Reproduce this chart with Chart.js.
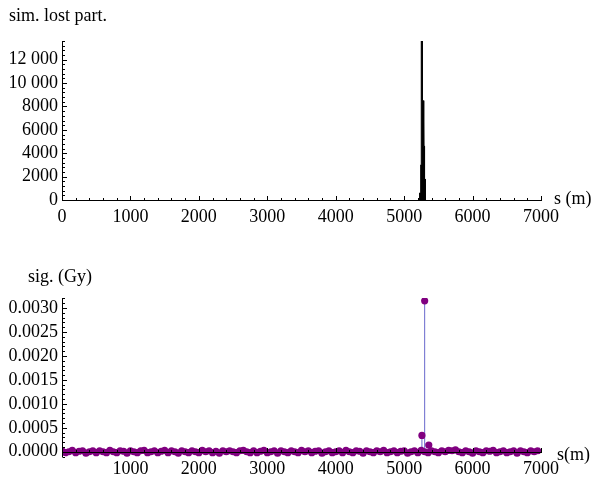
<!DOCTYPE html>
<html><head><meta charset="utf-8">
<script src="https://cdn.jsdelivr.net/npm/chart.js@4/dist/chart.umd.min.js"></script>
<style>
html,body{margin:0;padding:0;background:#fff;width:593px;height:479px;overflow:hidden}
#wrap{position:relative;width:593px;height:479px}
canvas{position:absolute;left:0}
#c1{top:0}
#c2{top:250px}
.lbl{position:absolute;font-family:"Liberation Serif","Times New Roman",serif;font-size:18px;line-height:18px;color:#000;white-space:nowrap}
</style></head><body>
<div id="wrap">
<canvas id="c1" width="593" height="240"></canvas>
<canvas id="c2" width="593" height="229"></canvas>
<div class="lbl" style="left:9px;top:6px">sim. lost part.</div>
<div class="lbl" style="left:554px;top:189px">s (m)</div>
<div class="lbl" style="left:28px;top:267px">sig. (Gy)</div>
<div class="lbl" style="left:557px;top:445px">s(m)</div>
</div>
<script>
// ---------- top chart: simulated lost particles (histogram) ----------
const lossBinEdges = [5225, 5235, 5245, 5250, 5265, 5280, 5290, 5298, 5305, 5312];
const lossCounts   = [600, 1500, 3000, 13600, 8500, 7900, 4600, 1800, 500];
const topXTicks = [0, 1000, 2000, 3000, 4000, 5000, 6000, 7000];
const topYTicks = [0, 2000, 4000, 6000, 8000, 10000, 12000];

// ---------- bottom chart: signal (Gy) per monitor ----------
const bgS = [0,50,100,150,200,250,300,350,400,450,500,550,600,650,700,750,800,850,900,950,
 1000,1050,1100,1150,1200,1250,1300,1350,1400,1450,1500,1550,1600,1650,1700,1750,1800,1850,1900,1950,
 2000,2050,2100,2150,2200,2250,2300,2350,2400,2450,2500,2550,2600,2650,2700,2750,2800,2850,2900,2950,
 3000,3050,3100,3150,3200,3250,3300,3350,3400,3450,3500,3550,3600,3650,3700,3750,3800,3850,3900,3950,
 4000,4050,4100,4150,4200,4250,4300,4350,4400,4450,4500,4550,4600,4650,4700,4750,4800,4850,4900,4950,
 5000,5050,5100,5150,5200,5250,5300,5350,5400,5450,5500,5550,5600,5650,5700,5750,5800,5850,5900,5950,
 6000,6050,6100,6150,6200,6250,6300,6350,6400,6450,6500,6550,6600,6650,6700,6750,6800,6850,6900,6950];
// background signal, in units of 1e-5 Gy
const bgSigE5 = [2,-2,0,3,-2,1,2,-3,0,2,
 -2,2,0,-2,3,0,-2,2,1,-3,
 2,0,-2,2,3,-2,0,2,-2,1,
 3,-2,2,0,-3,2,0,-2,2,0,
 -2,3,0,2,-2,1,-3,2,0,2,
 0,-2,2,3,0,-2,2,-2,1,3,
 -2,0,2,-3,2,0,-2,2,0,-2,
 3,0,2,-2,1,2,-3,0,2,-2,
 0,2,-2,3,0,-2,2,1,-3,2,
 0,-2,2,0,3,-2,0,2,-2,1,
 2,-3,0,2,-2,3,0,-2,2,0,
 -2,2,0,3,2,4,0,-2,2,0,
 -3,2,0,-2,2,1,3,-2,0,2,
 -2,0,2,-3,2,0,-2,2,0,2];
const peakS = [5260, 5300, 5360];
const peakSig = [0.00034, 0.00315, 0.00014];
const botXTicks = [1000, 2000, 3000, 4000, 5000, 6000, 7000];
const botYTicks = [0, 0.0005, 0.0010, 0.0015, 0.0020, 0.0025, 0.0030];

const FONT = {family: '"Liberation Serif","Times New Roman",serif', size: 18};

function range(a, b, st){ const r=[]; for(let v=a; v<=b+st*1e-6; v+=st) r.push(+v.toFixed(8)); return r; }

const axesPlugin = {
  id: 'mAxes',
  afterDatasetsDraw(chart, args, o){
    const {ctx, chartArea:a, scales:{x, y}} = chart;
    ctx.save();
    ctx.strokeStyle = '#000'; ctx.lineWidth = 1;
    const y0 = Math.round(y.getPixelForValue(0)) + 0.5;
    const xl = Math.round(a.left) + 0.5;
    ctx.beginPath();
    ctx.moveTo(a.left, y0); ctx.lineTo(a.right + 1, y0);
    ctx.moveTo(xl, a.top); ctx.lineTo(xl, a.bottom);
    const tick = (vals, len, isX) => {
      vals.forEach(v => {
        if (isX) { const px = Math.round(x.getPixelForValue(v)) + 0.5; ctx.moveTo(px, y0); ctx.lineTo(px, y0 - len); }
        else { const py = Math.round(y.getPixelForValue(v)) + 0.5; ctx.moveTo(xl, py); ctx.lineTo(xl + len, py); }
      });
    };
    tick(o.xMinor, 2.5, true); tick(o.xMajor, 4.5, true);
    tick(o.yMinor, 2.5, false); tick(o.yMajor, 4.5, false);
    ctx.stroke();
    ctx.restore();
  }
};

function fmtTop(v){ return v >= 10000 ? Math.floor(v/1000) + ' ' + String(v%1000).padStart(3,'0') : String(v); }

// ---- top chart ----
const histPts = [{x: lossBinEdges[0], y: 0}];
lossCounts.forEach((c, i) => { histPts.push({x: lossBinEdges[i], y: c}); histPts.push({x: lossBinEdges[i+1], y: c}); });
histPts.push({x: lossBinEdges[lossBinEdges.length-1], y: 0});

new Chart(document.getElementById('c1'), {
  type: 'line',
  data: { datasets: [{ data: histPts, borderColor: '#000', backgroundColor: '#000', borderWidth: 1, pointRadius: 0, fill: 'origin', tension: 0 }] },
  options: {
    responsive: false, animation: false, devicePixelRatio: 1,
    layout: { padding: { left: 0, top: 41, right: 52, bottom: 0 } },
    plugins: { legend: {display: false}, tooltip: {enabled: false},
      mAxes: { xMajor: topXTicks, xMinor: range(0, 7000, 200), yMajor: topYTicks, yMinor: range(0, 13600, 400) } },
    scales: {
      x: { type: 'linear', min: 0, max: 7000, grid: {display: false, drawTicks: false}, border: {display: false},
           afterBuildTicks: s => { s.ticks = topXTicks.map(v => ({value: v})); },
           afterFit: s => { s.height = 40; },
           ticks: { font: FONT, color: '#000', padding: 6, maxRotation: 0, autoSkip: false, callback: v => String(v) } },
      y: { type: 'linear', min: 0, max: 13600, grid: {display: false, drawTicks: false}, border: {display: false},
           afterBuildTicks: s => { s.ticks = topYTicks.map(v => ({value: v})); },
           afterFit: s => { s.width = 62; },
           ticks: { font: FONT, color: '#000', padding: 4, autoSkip: false, callback: v => fmtTop(v) } }
    }
  },
  plugins: [axesPlugin]
});

// ---- bottom chart ----
const allS = bgS.concat(peakS);
const allSig = bgSigE5.map(v => v * 1e-5).concat(peakSig);
const stemPts = [];
allS.forEach((s, i) => { stemPts.push({x: s, y: 0}, {x: s, y: allSig[i]}, {x: s, y: null}); });
const dotPts = allS.map((s, i) => ({x: s, y: allSig[i]}));

new Chart(document.getElementById('c2'), {
  type: 'line',
  data: { datasets: [
    { data: stemPts, borderColor: 'rgb(105,105,205)', borderWidth: 1, pointRadius: 0, spanGaps: false, fill: false, order: 2 },
    { type: 'scatter', data: dotPts, backgroundColor: '#800080', borderWidth: 0, pointRadius: 3.6, order: 1 }
  ] },
  options: {
    responsive: false, animation: false, devicePixelRatio: 1,
    layout: { padding: { left: 0, top: 48, right: 52, bottom: 0 } },
    plugins: { legend: {display: false}, tooltip: {enabled: false},
      mAxes: { xMajor: botXTicks, xMinor: range(0, 7000, 200), yMajor: botYTicks, yMinor: range(-0.0001, 0.0032, 0.0001) } },
    scales: {
      x: { type: 'linear', min: 0, max: 7000, grid: {display: false, drawTicks: false}, border: {display: false},
           afterBuildTicks: s => { s.ticks = botXTicks.map(v => ({value: v})); },
           afterFit: s => { s.height = 22; },
           ticks: { font: FONT, color: '#000', padding: 1, maxRotation: 0, autoSkip: false, callback: v => String(v) } },
      y: { type: 'linear', min: -0.00011, max: 0.00321, grid: {display: false, drawTicks: false}, border: {display: false},
           afterBuildTicks: s => { s.ticks = botYTicks.map(v => ({value: v})); },
           afterFit: s => { s.width = 62; },
           ticks: { font: FONT, color: '#000', padding: 4, autoSkip: false, callback: v => Number(v).toFixed(4) } }
    }
  },
  plugins: [axesPlugin]
});
</script>
</body></html>
